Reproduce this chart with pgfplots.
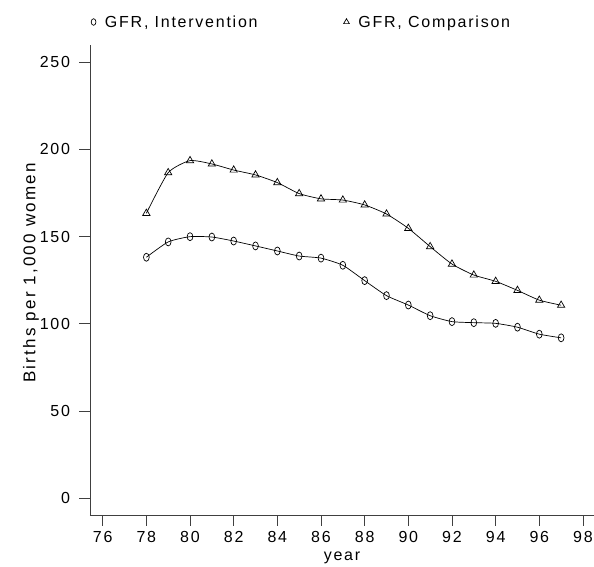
\documentclass[border=0pt]{standalone}
\usepackage{pgfplots}
\pgfplotsset{compat=1.18}
\usepackage{fontspec}
\setmainfont{Liberation Sans}[LetterSpace=11]
\newcommand\fs{\fontsize{16}{19}\selectfont}
\newcommand\fsl{\fontsize{17}{20}\selectfont\addfontfeatures{LetterSpace=13}}
\begin{document}
\begin{tikzpicture}[x=1pt,y=1pt]
\path[use as bounding box] (-90,-52) rectangle (504,515);
\begin{axis}[at={(0,0)}, anchor=south west, scale only axis,
  width=504pt, height=470pt,
  xmin=75.418, xmax=98.506, ymin=-9.58, ymax=259.9,
  axis x line*=bottom, axis y line*=left,
  axis line style={black!75, line width=0.9pt, -},
  xtick={76,78,...,98}, ytick={0,50,...,250},
  tick align=outside, major tick length=10.5pt,
  tick style={black!75, line width=0.8pt},
  tick label style={font=\fs},
  xticklabel style={yshift=-2pt},
  yticklabel style={xshift=-6pt},
  /pgf/number format/assume math mode=true,
  /pgf/number format/1000 sep={},
  xlabel={year}, ylabel={Births per 1,000 women},
  xlabel style={font=\fs, at={(axis description cs:0.5,0)}, anchor=center, yshift=-43pt},
  ylabel style={font=\fsl, at={(axis description cs:0,0.515)}, anchor=center, yshift=59pt},
  legend columns=2,
  legend style={draw=none, fill=none, font=\fs, at={(axis description cs:0,1)},
    anchor=west, xshift=-2pt, yshift=23pt,
    /tikz/every odd column/.append style={column sep=7pt},
    /tikz/every even column/.append style={column sep=84pt}},
  legend image code/.code={\draw[#1, mark size=3.3pt] plot coordinates {(0pt,0pt)};},
]
\addplot[black, line width=0.7pt, smooth, tension=0.35, mark=o, mark size=4pt,
  mark options={xscale=0.72, solid, line width=0.7pt}]
coordinates {
(78,138.2)(79,147.0)(80,150.0)(81,149.8)(82,147.5)(83,144.7)(84,141.8)(85,138.9)
(86,137.7)(87,133.6)(88,124.8)(89,116.2)(90,110.8)(91,104.7)(92,101.3)(93,100.7)
(94,100.3)(95,98.1)(96,94.1)(97,92.0)};
\addlegendentry{GFR, Intervention}
\addplot[black, line width=0.7pt, smooth, tension=0.35, mark=triangle, mark size=4.2pt,
  mark options={solid, line width=0.7pt}]
coordinates {
(78,163.4)(79,186.7)(80,193.6)(81,191.7)(82,188.2)(83,185.4)(84,181.0)(85,174.7)
(86,171.7)(87,171.0)(88,168.2)(89,163.0)(90,154.8)(91,144.3)(92,134.3)(93,128.0)
(94,124.4)(95,119.2)(96,113.6)(97,110.7)};
\addlegendentry{GFR, Comparison}
\end{axis}
\end{tikzpicture}
\end{document}
